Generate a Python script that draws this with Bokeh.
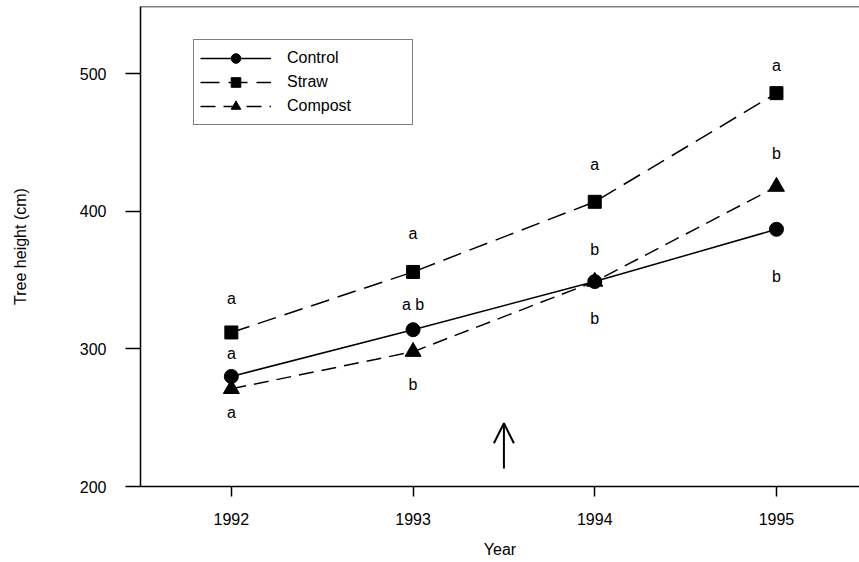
from bokeh.plotting import figure
from bokeh.models import (Range1d, Legend, LegendItem, Arrow, OpenHead, Span,
                          FixedTicker, ColumnDataSource)
from bokeh.core.properties import value
from bokeh.embed import file_html
from bokeh.resources import INLINE

# ---- data ----
years = [1992, 1993, 1994, 1995]
control = [280, 314, 349, 387]
straw = [312, 356, 407, 486]
compost = [271, 298, 349, 418]

letter_years = [1992, 1992, 1992, 1993, 1993, 1993, 1994, 1994, 1994, 1995, 1995, 1995]
letters = ["a", "a", "a", "a", "a b", "b", "a", "b", "b", "a", "b", "b"]
letter_y = [337, 297, 254, 384, 332, 274, 434, 372, 322, 506, 442, 353]

arrow_year = 1993.5
arrow_from = 213
arrow_to = 246

x_ticks = [1992, 1993, 1994, 1995]
y_ticks = [200, 300, 400, 500]

FONT = "Liberation Sans"
FS = "16px"

W, H = 859, 562
p = figure(width=W, height=H, output_backend="svg", toolbar_location=None,
           x_range=Range1d(1991.5, 1995.457), y_range=Range1d(200, 549),
           min_border_left=140, min_border_right=0, min_border_top=6,
           min_border_bottom=76)
p.outline_line_color = None
p.grid.visible = False

for ax in (p.xaxis[0], p.yaxis[0]):
    ax.axis_line_width = 1.5
    ax.axis_line_color = "black"
    ax.major_tick_line_width = 1.5
    ax.major_tick_line_color = "black"
    ax.major_tick_in = 0
    ax.minor_tick_line_color = None
    ax.major_label_text_font = FONT
    ax.major_label_text_font_size = FS
    ax.major_label_text_color = "black"
    ax.axis_label_text_font = FONT
    ax.axis_label_text_font_size = FS
    ax.axis_label_text_font_style = "normal"
    ax.axis_label_text_color = "black"

p.xaxis.ticker = FixedTicker(ticks=x_ticks)
p.yaxis.ticker = FixedTicker(ticks=y_ticks)
p.xaxis.major_tick_out = 10
p.xaxis.major_label_standoff = 16
p.xaxis.axis_label = "Year"
p.xaxis.axis_label_standoff = 13
p.yaxis.major_tick_out = 15
p.yaxis.major_label_standoff = 19
p.yaxis.axis_label = "Tree height (cm)"
p.yaxis.axis_label_standoff = 48

p.add_layout(Span(location=549, dimension="width", line_color="black", line_width=1.5))

r_c_line = p.line(years, control, line_color="black", line_width=1.5)
r_c_pt = p.scatter(years, control, marker="circle", size=14, fill_color="black", line_color="black")
r_s_line = p.line(years, straw, line_color="black", line_width=1.5, line_dash="19 9")
r_s_pt = p.scatter(years, straw, marker="square", size=13, fill_color="black", line_color="black")
r_p_line = p.line(years, compost, line_color="black", line_width=1.5, line_dash="15 8")
r_p_pt = p.scatter(years, compost, marker="triangle", size=16, fill_color="black", line_color="black")

src = ColumnDataSource(dict(x=letter_years, y=letter_y, t=letters))
p.text(x="x", y="y", text="t", source=src, text_align="center", text_baseline="middle",
       text_font=value(FONT), text_font_size=FS, text_color="black")

p.add_layout(Arrow(end=OpenHead(size=20, line_width=2, line_color="black"),
                   x_start=arrow_year, y_start=arrow_from, x_end=arrow_year, y_end=arrow_to,
                   line_width=2, line_color="black"))

legend = Legend(items=[
    LegendItem(label="Control", renderers=[r_c_line, r_c_pt]),
    LegendItem(label="Straw", renderers=[r_s_line, r_s_pt]),
    LegendItem(label="Compost", renderers=[r_p_line, r_p_pt]),
], location=(53, 361))
legend.glyph_width = 71
legend.glyph_height = 24
legend.label_height = 24
legend.spacing = 0
legend.padding = 6
legend.label_standoff = 16
legend.label_width = 119
legend.label_text_font = FONT
legend.label_text_font_size = FS
legend.label_text_color = "black"
legend.border_line_color = "black"
legend.border_line_width = 1.5
legend.background_fill_alpha = 1
legend.margin = 0
p.add_layout(legend)

open("out.html", "w").write(file_html(p, INLINE))
